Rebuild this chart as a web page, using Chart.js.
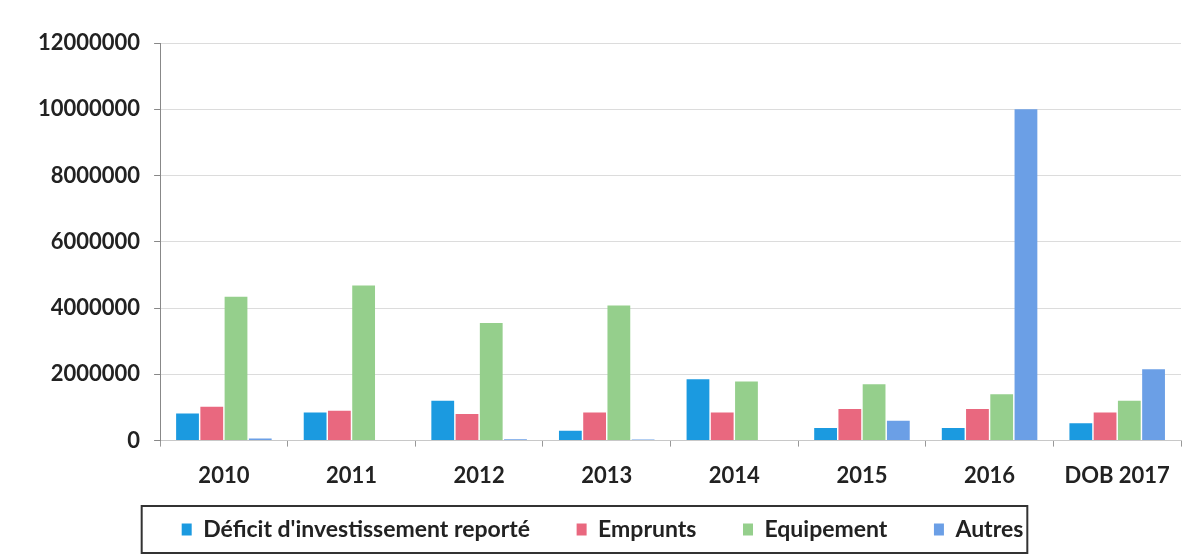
<!DOCTYPE html>
<html>
<head>
<meta charset="utf-8">
<script src="https://cdn.jsdelivr.net/npm/chart.js@4"></script>
<style>
  body { margin: 0; background: #fff; }
  #box { width: 1203px; height: 559px; }
</style>
</head>
<body>
<div id="box"><canvas id="grafico"></canvas></div>
<script>
const annees = ['2010', '2011', '2012', '2013', '2014', '2015', '2016', 'DOB 2017'];
const deficit = [820000, 850000, 1200000, 300000, 1850000, 380000, 380000, 520000];
const emprunts = [1020000, 900000, 800000, 850000, 850000, 950000, 950000, 850000];
const equipement = [4340000, 4680000, 3550000, 4080000, 1780000, 1700000, 1400000, 1200000];
const autres = [60000, 20000, 40000, 30000, 20000, 600000, 10000000, 2150000];
const graduations = [0, 2000000, 4000000, 6000000, 8000000, 10000000, 12000000];

const POLICE = 'Lato, "Open Sans", sans-serif';
const ESPACE = '\u00a0'.repeat(6); // ecart entre les entrees de la legende

// cadre noir autour de la legende, comme sur le document
const cadreLegende = {
  id: 'cadreLegende',
  afterDraw(chart) {
    const boites = chart.legend.legendHitBoxes;
    if (!boites || !boites.length) return;
    const gauche = Math.min(...boites.map(b => b.left)) - 40;
    const derniere = boites[boites.length - 1];
    const droite = derniere.left + derniere.width + 4;
    const haut = boites[0].top - 12;
    const bas = boites[0].top + boites[0].height + 12;
    const ctx = chart.ctx;
    ctx.save();
    ctx.strokeStyle = '#333';
    ctx.lineWidth = 2;
    ctx.strokeRect(gauche, haut, droite - gauche, bas - haut);
    ctx.restore();
  }
};

new Chart(document.getElementById('grafico'), {
  type: 'bar',
  data: {
    labels: annees,
    datasets: [
      { label: "Déficit d'investissement reporté", data: deficit, backgroundColor: '#1b9ae0' },
      { label: 'Emprunts', data: emprunts, backgroundColor: '#e9687f' },
      { label: 'Equipement', data: equipement, backgroundColor: '#95cf8c' },
      { label: 'Autres', data: autres, backgroundColor: '#6b9fe6' }
    ]
  },
  options: {
    responsive: true,
    maintainAspectRatio: false,
    animation: false,
    layout: { padding: { top: 43, right: 22, left: 24, bottom: 8 } },
    datasets: { bar: { categoryPercentage: 0.76, barPercentage: 0.94 } },
    plugins: {
      legend: {
        position: 'bottom',
        labels: {
          boxWidth: 10,
          boxHeight: 12,
          padding: 13,
          color: '#222',
          font: { family: POLICE, size: 23, weight: 'bold' },
          generateLabels(chart) {
            const items = Chart.defaults.plugins.legend.labels.generateLabels(chart);
            items.forEach((it, i) => { if (i < items.length - 1) it.text += ESPACE; });
            return items;
          }
        }
      },
      tooltip: { enabled: false }
    },
    scales: {
      x: {
        grid: { display: true, drawOnChartArea: false, tickLength: 6, color: '#999' },
        border: { color: '#c8c8c8' },
        ticks: { color: '#222', padding: 16, font: { family: POLICE, size: 22, weight: 'bold' } }
      },
      y: {
        min: 0,
        max: 12000000,
        afterBuildTicks(axis) { axis.ticks = graduations.map(v => ({ value: v })); },
        grid: { color: '#dcdcdc', tickLength: 6, tickColor: '#888' },
        border: { color: '#888' },
        ticks: {
          color: '#222',
          padding: 14,
          font: { family: POLICE, size: 22, weight: 'bold' },
          callback: v => String(v)
        }
      }
    }
  },
  plugins: [cadreLegende]
});
</script>
</body>
</html>
